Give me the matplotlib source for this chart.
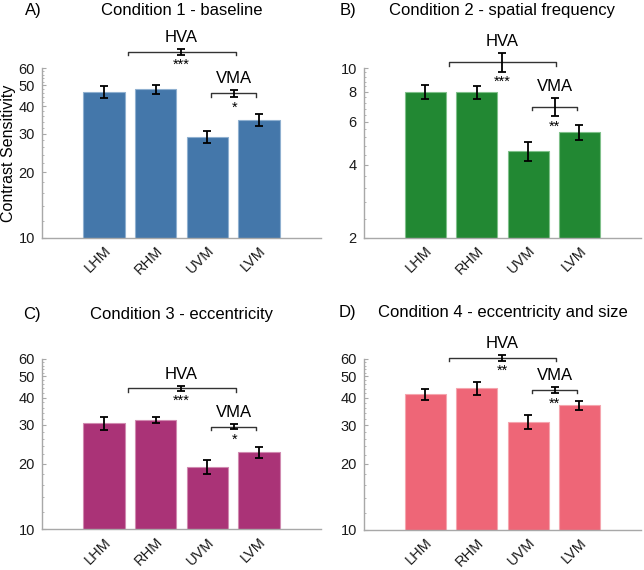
import numpy as np
import matplotlib
matplotlib.use('Agg')
import matplotlib.pyplot as plt
import matplotlib.transforms as mtrans
from matplotlib.ticker import FixedLocator, NullFormatter

plt.rcParams['font.family'] = ['Liberation Sans', 'DejaVu Sans']

# dati
locs = ['LHM', 'RHM', 'UVM', 'LVM']

cs1 = [46.7, 47.9, 29.1, 34.6]
err1 = [3.0, 2.2, 1.8, 2.2]
cs2 = [7.99, 7.95, 4.57, 5.44]
err2 = [0.52, 0.50, 0.41, 0.40]
cs3 = [30.5, 31.6, 19.3, 22.5]
err3 = [2.1, 1.0, 1.45, 1.2]
cs4 = [41.5, 44.2, 31.1, 36.9]
err4 = [2.5, 3.1, 2.4, 1.9]

# HVA / VMA: valore, errore, stelle
hva = [(71.2, 2.2, '***'), (10.6, 0.95, '***'), (44.1, 1.05, '***'), (60.8, 1.9, '**')]
vma = [(45.9, 1.7, '*'), (6.93, 0.58, '**'), (29.5, 0.85, '*'), (43.4, 1.35, '**')]

titoli = ['Condition 1 - baseline', 'Condition 2 - spatial frequency',
          'Condition 3 - eccentricity', 'Condition 4 - eccentricity and size']
lettere = ['A)', 'B)', 'C)', 'D)']
colori = ['#4477AA', '#228833', '#AA3377', '#EE6677']
bordi = ['#8fb0d0', '#7fc08a', '#d08ab0', '#f5a5ae']
ylims = [(10, 60), (2, 10), (10, 60), (10, 60)]
yticks = [[10, 20, 30, 40, 50, 60], [2, 4, 6, 8, 10],
          [10, 20, 30, 40, 50, 60], [10, 20, 30, 40, 50, 60]]

W, H = 644, 570
pos = [[0.0652, 0.5825, 0.4332, 0.2982], [0.5648, 0.5825, 0.4306, 0.2982],
       [0.0652, 0.0711, 0.4332, 0.2991], [0.5648, 0.0702, 0.4306, 0.3000]]
# posizioni titoli/lettere in pixel (x lettera, baseline)
lett_xy = [(25, 15), (340, 15), (23, 319), (339, 316.5)]
tit_y = [15, 15, 319, 316.5]

medie = [cs1, cs2, cs3, cs4]
errori = [err1, err2, err3, err4]

fig = plt.figure(figsize=(W / 100, H / 100), dpi=100)
x = np.arange(1, 5)
grigio = '#a8a8a8'
sposta = mtrans.ScaledTranslation(6 / 100, 0, fig.dpi_scale_trans)

for i in range(4):
    ax = fig.add_axes(pos[i])
    ax.bar(x, medie[i], width=0.8, color=colori[i], edgecolor=bordi[i], linewidth=0.8, zorder=2)
    ax.errorbar(x, medie[i], yerr=errori[i], fmt='none', ecolor='black',
                elinewidth=1.3, capsize=3, capthick=1.3, zorder=3)
    ax.set_yscale('log')
    ax.set_ylim(ylims[i])
    ax.set_xlim(-0.2, 5.2)
    ax.yaxis.set_major_locator(FixedLocator(yticks[i]))
    ax.set_yticklabels([str(t) for t in yticks[i]])
    lo, hi = ylims[i]
    step = 2 if hi > 10 else 0.4
    ax.yaxis.set_minor_locator(FixedLocator(np.arange(lo, hi + 1e-9, step)))
    ax.yaxis.set_minor_formatter(NullFormatter())
    ax.set_xticks(x)
    ax.set_xticklabels(locs, rotation=45, ha='right', va='top', rotation_mode='anchor')
    for lab in ax.get_xticklabels():
        lab.set_transform(lab.get_transform() + sposta)
    for s in ['top', 'right']:
        ax.spines[s].set_visible(False)
    for s in ['left', 'bottom']:
        ax.spines[s].set_color(grigio)
        ax.spines[s].set_linewidth(1.0)
    ax.tick_params(axis='y', which='both', direction='in', color=grigio, labelsize=10.5,
                   pad=5, labelcolor='#1a1a1a')
    ax.tick_params(axis='y', which='major', length=3)
    ax.tick_params(axis='y', which='minor', length=1.5, width=0.6)
    ax.tick_params(axis='x', length=0, labelsize=10.5, pad=4, labelcolor='#1a1a1a')

    # titolo e lettera del pannello
    cx = (pos[i][0] + pos[i][2] / 2)
    fig.text(cx, 1 - tit_y[i] / H, titoli[i], fontsize=12, ha='center', va='baseline')
    fig.text(lett_xy[i][0] / W, 1 - lett_xy[i][1] / H, lettere[i], fontsize=12,
             ha='left', va='baseline')

    # parentesi HVA e VMA
    for (val, e, stelle), (xc, x0, x1), nome in [(hva[i], (2.5, 1.46, 3.55), 'HVA'),
                                                  (vma[i], (3.52, 3.08, 3.95), 'VMA')]:
        tick = val * 0.035
        ax.plot([x0, x0, x1, x1], [val - tick, val, val, val - tick], color='#333333',
                lw=1.0, clip_on=False, zorder=4)
        ax.errorbar([xc], [val], yerr=[e], fmt='none', ecolor='black', elinewidth=1.3,
                    capsize=3, capthick=1.3, clip_on=False, zorder=5)
        ax.annotate(nome, (xc, val + e), xytext=(0, 3), textcoords='offset points',
                    ha='center', va='bottom', fontsize=12, annotation_clip=False)
        ax.annotate(stelle, (xc, val - e), xytext=(0, -2.5), textcoords='offset points',
                    ha='center', va='top', fontsize=10.5, annotation_clip=False)

fig.text(9 / W, 1 - 153 / H, 'Contrast Sensitivity', fontsize=11.5, rotation=90,
         ha='center', va='center')

fig.savefig('out.png', dpi=100)
